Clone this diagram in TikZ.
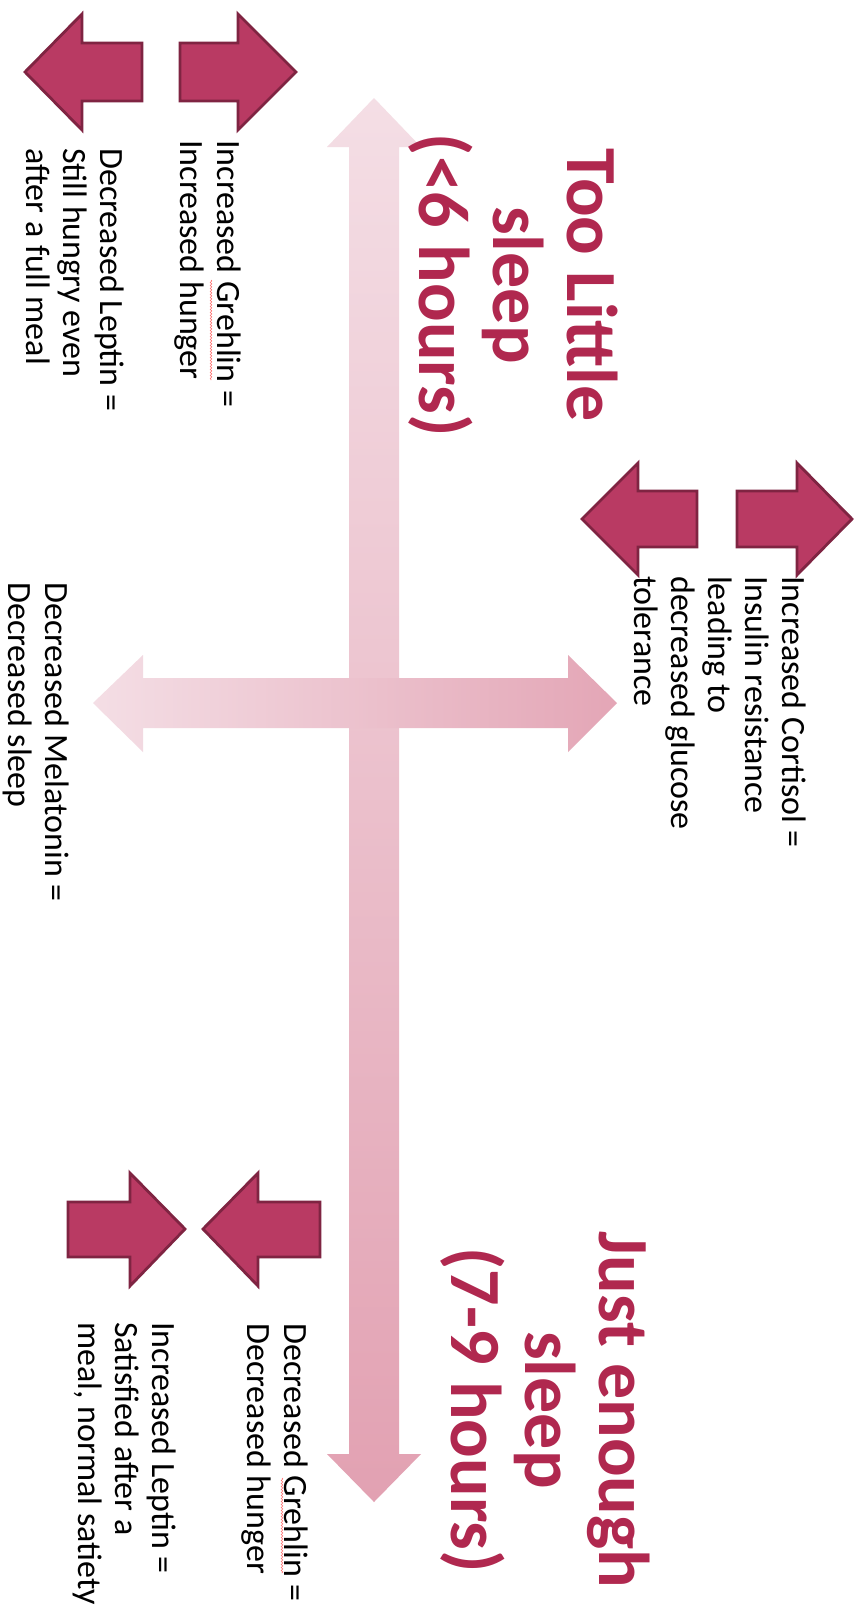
\documentclass[tikz,border=0pt]{standalone}
\usepackage{fontspec}
\setmainfont{Carlito}
\usetikzlibrary{decorations.pathmorphing}
\definecolor{darkfill}{HTML}{B93A63}
\definecolor{darkedge}{HTML}{7F2442}
\definecolor{pinklight}{HTML}{F4DEE5}
\definecolor{pinkdark}{HTML}{E2A1B2}
\definecolor{titlered}{HTML}{B0284F}
\begin{document}
\begin{tikzpicture}[x=1pt,y=-1pt,
  darrow/.style={fill=darkfill, draw=darkedge, line width=2.8pt, line join=miter},
  txt/.style={rotate=-90, anchor=north west, align=left, inner sep=0pt, font=\fontsize{34}{37}\selectfont, text=black},
  ttl/.style={rotate=-90, anchor=north, align=center, inner sep=0pt, font=\bfseries\fontsize{72}{74}\selectfont, text=titlered},
  squiggle/.style={draw=red!55, line width=0.6pt, decorate, decoration={snake, amplitude=0.8pt, segment length=3pt}}]
\fill[white] (0,0) rectangle (856,1619);
\useasboundingbox (0,0) rectangle (856,1619);
% big vertical arrow
\shade[top color=pinklight, bottom color=pinkdark] (374,98) -- (421,147) -- (399,147) -- (399,1454) -- (421,1454) -- (374,1502) -- (327,1454) -- (349,1454) -- (349,147) -- (327,147) -- cycle;
% big horizontal arrow
\shade[left color=pinklight, right color=pinkdark!95!white] (93,703) -- (143,655) -- (143,678) -- (568,678) -- (568,655) -- (617,703) -- (568,752) -- (568,728) -- (143,728) -- (143,752) -- cycle;
% top pair
\draw[darrow] (142,43) -- (82,43) -- (82,14) -- (25,72) -- (82,130) -- (82,101) -- (142,101) -- cycle;
\draw[darrow] (180,43) -- (238,43) -- (238,14) -- (296,72) -- (238,130) -- (238,101) -- (180,101) -- cycle;
% middle pair
\draw[darrow] (697,491) -- (638,491) -- (638,463) -- (582,519) -- (638,575) -- (638,547) -- (697,547) -- cycle;
\draw[darrow] (737,491) -- (797,491) -- (797,463) -- (852,519) -- (797,575) -- (797,547) -- (737,547) -- cycle;
% bottom pair
\draw[darrow] (68,1202) -- (130,1202) -- (130,1173) -- (185,1229) -- (130,1286) -- (130,1257) -- (68,1257) -- cycle;
\draw[darrow] (320,1202) -- (258,1202) -- (258,1173) -- (203,1229) -- (258,1286) -- (258,1257) -- (320,1257) -- cycle;
% titles
\node[ttl] (t1) at (618,285) {Too Little\\sleep\\(<6 hours)};
\node[ttl] (t2) at (650,1410) {Just enough\\sleep\\(7-9 hours)};
% texts
\node[txt] (a1) at (241,140) {Increased Grehlin =\\Increased hunger};
\node[txt] (a2) at (124,148) {Decreased Leptin =\\Still hungry even\\after a full meal};
\node[txt] (b1) at (806,576) {Increased Cortisol =\\Insulin resistance\\leading to\\decreased glucose\\tolerance};
\node[txt] (b2) at (69,582) {Decreased Melatonin =\\Decreased sleep};
\node[txt] (c1) at (308,1323) {Decreased Grehlin =\\Decreased hunger};
\node[txt] (c2) at (176,1322) {Increased Leptin =\\Satisfied after a\\meal, normal satiety};
% spell-check underlines
\draw[squiggle] (211,280) -- (211,380);
\draw[squiggle] (282,1478) -- (282,1573);
\end{tikzpicture}
\end{document}
